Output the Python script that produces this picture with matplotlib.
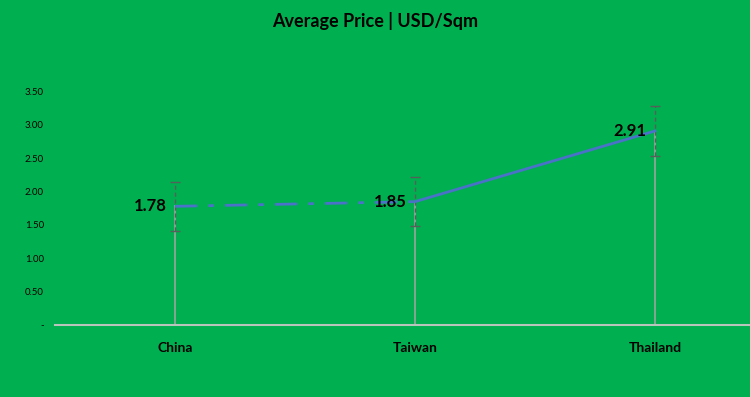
import matplotlib.pyplot as plt
import numpy as np

# Chart data
categories = ["China", "Taiwan", "Thailand"]
prices = [1.78, 1.85, 2.91]
errors = [0.37, 0.37, 0.37]
yticks = [0, 0.5, 1.0, 1.5, 2.0, 2.5, 3.0, 3.5]

bg = "#00AF50"
blue = "#4A72C8"

plt.rcParams['font.family'] = ['Lato', 'DejaVu Sans']

fig = plt.figure(figsize=(7.5, 3.97), dpi=100, facecolor=bg)
ax = fig.add_axes([55 / 750, 72 / 397, 720 / 750, 266.7 / 397])
ax.set_facecolor(bg)

x = np.arange(len(categories)) + 0.5

# drop lines from the axis up to each point
for xi, yi in zip(x, prices):
    ax.plot([xi, xi], [0, yi], color="#9AA59E", lw=1.2, zorder=1)

# error bars (dashed)
eb = ax.errorbar(x, prices, yerr=errors, fmt="none", ecolor="#55605A",
                 elinewidth=1.0, capsize=3.5, capthick=1.0, zorder=2)
for lc in eb[2]:
    lc.set_linestyle((0, (3, 2)))

# line: dash-dot then solid
ax.plot(x[:2], prices[:2], color=blue, lw=2, linestyle=(0, (8, 4, 2, 4)), zorder=3)
ax.plot(x[1:], prices[1:], color=blue, lw=2, zorder=3)

for xi, yi in zip(x, prices):
    ax.text(xi - 0.035, yi, f"{yi:.2f}", ha="right", va="center",
            fontsize=12, fontweight="bold", color="black", zorder=4)

ax.set_xlim(0, 3)
ax.set_ylim(0, 4.0)
ax.set_yticks(yticks)
ax.set_yticklabels(["-"] + [f"{v:.2f}" for v in yticks[1:]], fontsize=7)
ax.set_xticks(x)
ax.set_xticklabels(categories, fontsize=10, fontweight="bold")
ax.tick_params(axis="both", length=0, colors="black")
ax.tick_params(axis="y", pad=8)
ax.tick_params(axis="x", pad=12)
for s in ["top", "right", "left"]:
    ax.spines[s].set_visible(False)
ax.spines["bottom"].set_color("#B8C4BC")
ax.spines["bottom"].set_linewidth(1.5)

fig.text(0.5, 1 - 21 / 397, "Average Price | USD/Sqm", ha="center", va="center",
         fontsize=13, fontweight="bold", color="black")

fig.savefig("out.png", dpi=100, facecolor=bg)
